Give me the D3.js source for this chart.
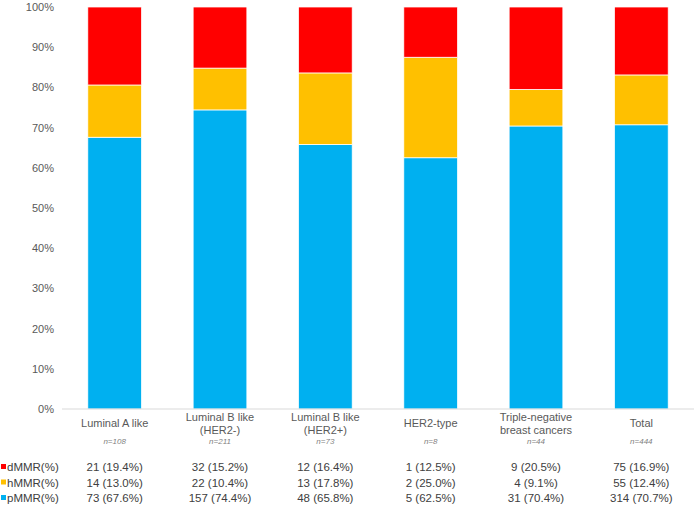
<!DOCTYPE html>
<html>
<head>
<meta charset="utf-8">
<script src="https://cdn.jsdelivr.net/npm/d3@7"></script>
<style>
  body { margin: 0; background: #fff; }
  svg { font-family: "Liberation Sans", Arial, sans-serif; }
</style>
</head>
<body>
<div id="container"></div>
<script>
const categories = [
  ["Luminal A like"],
  ["Luminal B like", "(HER2-)"],
  ["Luminal B like", "(HER2+)"],
  ["HER2-type"],
  ["Triple-negative", "breast cancers"],
  ["Total"]
];
const nLabels = ["n=108", "n=211", "n=73", "n=8", "n=44", "n=444"];
const series = ["pMMR(%)", "hMMR(%)", "dMMR(%)"];
const pCount = [73, 157, 48, 5, 31, 314];
const hCount = [14, 22, 13, 2, 4, 55];
const dCount = [21, 32, 12, 1, 9, 75];
const pPct = [67.6, 74.4, 65.8, 62.5, 70.4, 70.7];
const hPct = [13.0, 10.4, 17.8, 25.0, 9.1, 12.4];
const dPct = [19.4, 15.2, 16.4, 12.5, 20.5, 16.9];
const yTicks = [0, 10, 20, 30, 40, 50, 60, 70, 80, 90, 100];

const w = 700;
const h = 508;
const colors = { "pMMR(%)": "#00B0F0", "hMMR(%)": "#FFC000", "dMMR(%)": "#FF0000" };

const rows = categories.map((c, i) => ({
  i,
  "pMMR(%)": pPct[i],
  "hMMR(%)": hPct[i],
  "dMMR(%)": 100 - pPct[i] - hPct[i]
}));

const svg = d3.select("#container").append("svg").attr("width", w).attr("height", h);

const xScale = d3.scaleBand().domain(d3.range(categories.length)).range([62, 694]).paddingInner(0.49).paddingOuter(0.245);
const yScale = d3.scaleLinear().domain([0, 100]).range([409, 7]);

const stack = d3.stack().keys(series)(rows);

svg.append("g")
  .selectAll("g")
  .data(stack)
  .enter()
  .append("g")
  .attr("fill", (s) => colors[s.key])
  .selectAll("rect")
  .data((s) => s)
  .enter()
  .append("rect")
  .attr("x", (d) => xScale(d.data.i))
  .attr("y", (d) => yScale(d[1]))
  .attr("width", xScale.bandwidth())
  .attr("height", (d) => yScale(d[0]) - yScale(d[1]))
  .attr("stroke", "#fff")
  .attr("stroke-width", 0.75);

// y axis labels
const yAxis = svg.append("g")
  .attr("transform", "translate(54,0)")
  .call(d3.axisLeft(yScale).tickValues(yTicks).tickFormat((d) => d + "%").tickSize(0).tickPadding(0));
yAxis.select(".domain").remove();
yAxis.selectAll("text").attr("fill", "#595959").style("font-size", "11px");

// baseline
svg.append("line")
  .attr("x1", 62).attr("x2", 694)
  .attr("y1", yScale(0)).attr("y2", yScale(0))
  .attr("stroke", "#d9d9d9").attr("stroke-width", 1);

// category labels
const cx = (i) => xScale(i) + xScale.bandwidth() / 2;
const labels = svg.append("g");
categories.forEach((lines, i) => {
  const t = labels.append("text")
    .attr("x", cx(i))
    .attr("text-anchor", "middle")
    .attr("fill", "#595959")
    .style("font-size", "11px");
  const y0 = lines.length === 1 ? 427 : 421;
  lines.forEach((l, k) => {
    t.append("tspan").attr("x", cx(i)).attr("y", y0 + k * 12.5).text(l);
  });
  labels.append("text")
    .attr("x", cx(i))
    .attr("y", 444)
    .attr("text-anchor", "middle")
    .attr("fill", "#7f7f7f")
    .style("font-size", "8px")
    .style("font-style", "italic")
    .text(nLabels[i]);
});

// data table
const tableRows = [
  { key: "dMMR(%)", counts: dCount, pcts: dPct, y: 471 },
  { key: "hMMR(%)", counts: hCount, pcts: hPct, y: 486.5 },
  { key: "pMMR(%)", counts: pCount, pcts: pPct, y: 502 }
];
const table = svg.append("g");
tableRows.forEach((r) => {
  table.append("rect")
    .attr("x", 1).attr("y", r.y - 7)
    .attr("width", 5).attr("height", 5)
    .attr("fill", colors[r.key]);
  table.append("text")
    .attr("x", 7).attr("y", r.y)
    .attr("fill", "#404040")
    .style("font-size", "11.5px")
    .text(r.key);
  r.counts.forEach((c, i) => {
    table.append("text")
      .attr("x", cx(i)).attr("y", r.y)
      .attr("text-anchor", "middle")
      .attr("fill", "#404040")
      .style("font-size", "11.5px")
      .text(`${c} (${r.pcts[i].toFixed(1)}%)`);
  });
});
</script>
</body>
</html>
